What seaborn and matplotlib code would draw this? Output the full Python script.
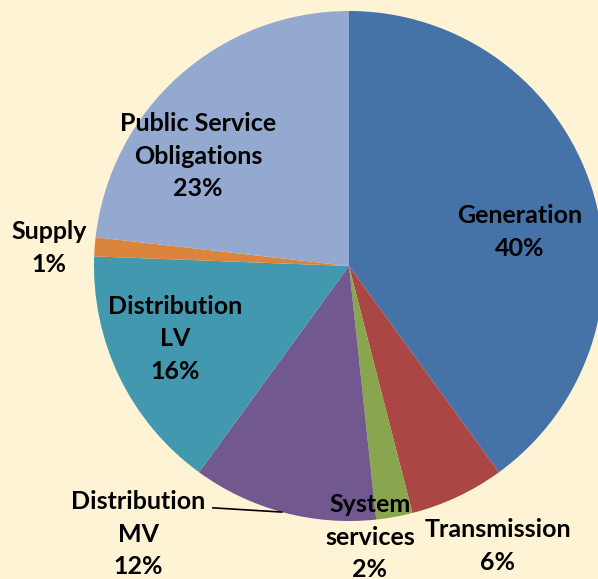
import matplotlib
matplotlib.use('Agg')
import matplotlib.pyplot as plt
import seaborn as sns

# Cost shares (percent), clockwise from 12 o'clock
categories = ['Generation', 'Transmission', 'System\nservices', 'Distribution\nMV',
              'Distribution\nLV', 'Supply', 'Public Service\nObligations']
shares = [40.0, 6.0, 2.3, 11.7, 15.6, 1.2, 23.2]
colors = ['#4572A7', '#AA4643', '#89A54E', '#71588F', '#4198AF', '#DB843D', '#93A9CF']

# label placement (data units, pie radius = 1)
label_pos = [(0.671, 0.133), (0.584, -1.098), (0.082, -1.063), (-0.827, -1.051),
             (-0.682, -0.286), (-1.176, 0.071), (-0.592, 0.431)]

sns.set_style('white')
plt.rcParams['font.family'] = ['Lato', 'DejaVu Sans']

bg = '#FFF3D6'
fig = plt.figure(figsize=(5.98, 5.79), dpi=100, facecolor=bg)
ax = fig.add_axes([0, 0, 1, 1])
ax.set_facecolor(bg)

palette = sns.color_palette(colors)
ax.pie(shares, colors=palette, startangle=90, counterclock=False,
       wedgeprops={'linewidth': 0, 'antialiased': True})

font = dict(fontsize=18, fontweight='bold', color='black', linespacing=1.52)
for i, (name, val) in enumerate(zip(categories, shares)):
    txt = f'{name}\n{round(val):d}%'
    x, y = label_pos[i]
    if name == 'Distribution\nMV':
        ax.annotate(txt, xy=(-0.263, -0.965), xytext=(x, y), ha='center', va='center',
                    arrowprops=dict(arrowstyle='-', color='black', lw=1.2,
                                    relpos=(1.0, 0.8), shrinkA=3, shrinkB=0),
                    **font)
    else:
        ax.text(x, y, txt, ha='center', va='center', **font)

ax.set_xlim(-349 / 255, 249 / 255)
ax.set_ylim(-313 / 255, 266 / 255)
ax.set_aspect('auto')
ax.axis('off')

fig.savefig('out.png', dpi=100, facecolor=bg)
